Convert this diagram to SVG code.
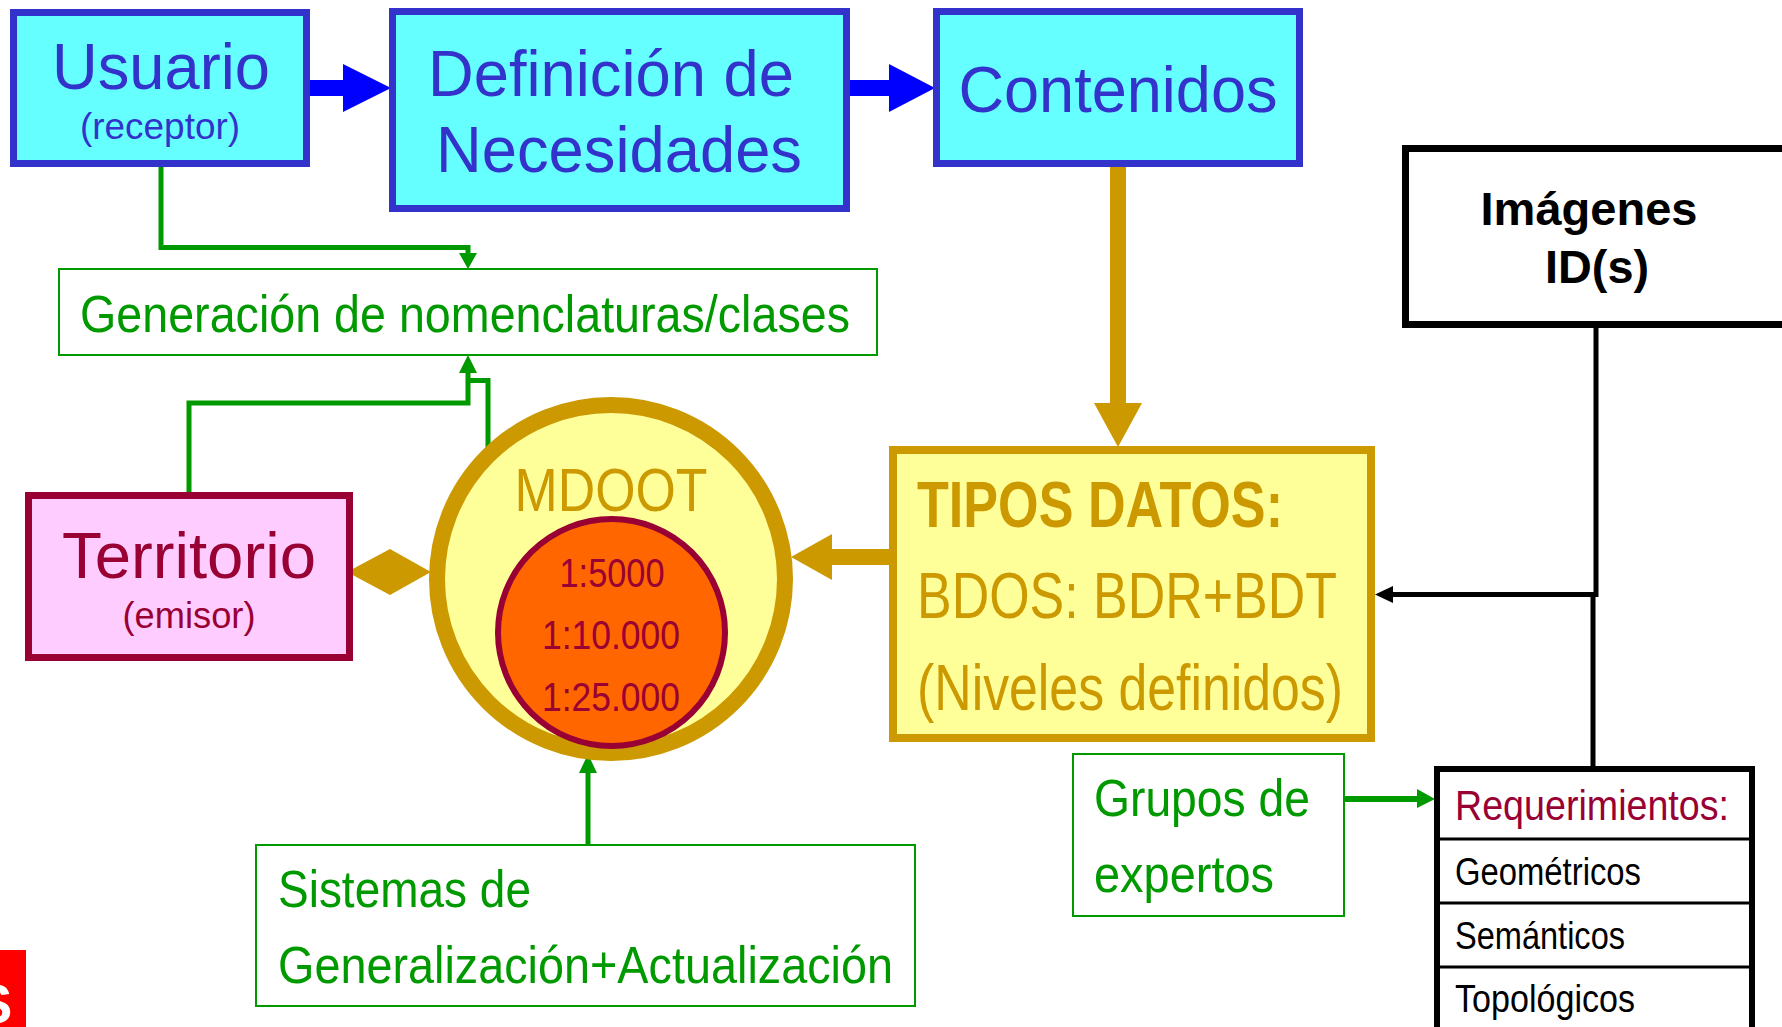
<svg xmlns="http://www.w3.org/2000/svg" width="1782" height="1027" viewBox="0 0 1782 1027">
<defs>
<style>
.reg{font-family:"Liberation Sans",Arial,sans-serif}
.nar{font-family:"Liberation Sans Narrow","Arial Narrow","Liberation Sans",sans-serif}
.blue{fill:#3333CC}
.grn{fill:#009900}
.gold{fill:#CC9900}
.wine{fill:#990033}
.cyanbox{fill:#66FFFF;stroke:#3333CC;stroke-width:7}
.gbox{fill:#FFFFFF;stroke:#009900;stroke-width:2}
.gline{fill:none;stroke:#009900;stroke-width:5}
.bline{fill:none;stroke:#000000;stroke-width:5}
</style>
<clipPath id="redclip"><rect x="0" y="950" width="26" height="77"/></clipPath>
</defs>
<rect width="1782" height="1027" fill="#FFFFFF"/>

<g id="connectors">
  <!-- blue arrows -->
  <polygon points="303,80 343,80 343,64 391,88 343,112 343,96 303,96" fill="#0000FF"/>
  <polygon points="846,80 889,80 889,64 935,88 889,112 889,96 846,96" fill="#0000FF"/>
  <!-- gold arrow down -->
  <polygon points="1110,163 1126,163 1126,403 1142,403 1118,447 1094,403 1110,403" fill="#CC9900"/>
  <!-- gold arrow left -->
  <polygon points="889,549 832,549 832,534 791,557 832,580 832,565 889,565" fill="#CC9900"/>
  <!-- diamond -->
  <polygon points="347,572 390,549 431,572 390,595" fill="#CC9900"/>
  <!-- green lines -->
  <path class="gline" d="M161,166 V247.5 H468 V256"/>
  <polygon points="459,253 477,253 468,269" fill="#009900"/>
  <path class="gline" d="M189,492 V403 H468 V372"/>
  <polygon points="459,373 477,373 468,355" fill="#009900"/>
  <path class="gline" d="M488,448 V380.5 H468"/>
  <path class="gline" d="M588,845 V770"/>
  <polygon points="579,773 597,773 588,754" fill="#009900"/>
  <path class="gline" style="stroke-width:6" d="M1344,799 H1420"/>
  <polygon points="1417,789 1435,799 1417,808" fill="#009900"/>
  <!-- black lines -->
  <path class="bline" d="M1596,326 V594.5 H1390"/>
  <polygon points="1375,594.5 1393,586 1393,603" fill="#000000"/>
  <path class="bline" d="M1593,594 V768"/>
</g>

<g id="usuario">
  <rect class="cyanbox" x="13.5" y="12.5" width="293" height="151"/>
  <text class="reg blue" x="161" y="89" font-size="64" text-anchor="middle" textLength="218" lengthAdjust="spacingAndGlyphs">Usuario</text>
  <text class="reg blue" x="160" y="139" font-size="36" text-anchor="middle" textLength="160" lengthAdjust="spacingAndGlyphs">(receptor)</text>
</g>

<g id="definicion">
  <rect class="cyanbox" x="392.5" y="11.5" width="454" height="197"/>
  <text class="reg blue" x="611" y="96" font-size="64" text-anchor="middle" textLength="366" lengthAdjust="spacingAndGlyphs">Definición de</text>
  <text class="reg blue" x="619" y="172" font-size="64" text-anchor="middle" textLength="366" lengthAdjust="spacingAndGlyphs">Necesidades</text>
</g>

<g id="contenidos">
  <rect class="cyanbox" x="936.5" y="11.5" width="363" height="152"/>
  <text class="reg blue" x="1118" y="112" font-size="64" text-anchor="middle" textLength="319" lengthAdjust="spacingAndGlyphs">Contenidos</text>
</g>

<g id="generacion">
  <rect class="gbox" x="59" y="269" width="818" height="86"/>
  <text class="nar grn" x="80" y="332" font-size="52" textLength="770" lengthAdjust="spacingAndGlyphs">Generación de nomenclaturas/clases</text>
</g>

<g id="territorio">
  <rect x="28.5" y="495.5" width="321" height="162" fill="#FFCCFF" stroke="#990033" stroke-width="7"/>
  <text class="reg wine" x="189" y="578" font-size="64" text-anchor="middle" textLength="254" lengthAdjust="spacingAndGlyphs">Territorio</text>
  <text class="reg wine" x="189" y="628" font-size="36" text-anchor="middle" textLength="133" lengthAdjust="spacingAndGlyphs">(emisor)</text>
</g>

<g id="mdoot">
  <circle cx="611" cy="579" r="174" fill="#FFFF99" stroke="#CC9900" stroke-width="16"/>
  <text class="nar gold" x="611" y="511" font-size="62" text-anchor="middle" textLength="193" lengthAdjust="spacingAndGlyphs">MDOOT</text>
  <circle cx="611.5" cy="632.5" r="113.5" fill="#FF6600" stroke="#990033" stroke-width="6"/>
  <text class="nar wine" x="612" y="587" font-size="40" text-anchor="middle" textLength="105" lengthAdjust="spacingAndGlyphs">1:5000</text>
  <text class="nar wine" x="611" y="649" font-size="40" text-anchor="middle" textLength="138" lengthAdjust="spacingAndGlyphs">1:10.000</text>
  <text class="nar wine" x="611" y="711" font-size="40" text-anchor="middle" textLength="138" lengthAdjust="spacingAndGlyphs">1:25.000</text>
</g>

<g id="tipos">
  <rect x="893" y="450" width="478" height="288" fill="#FFFF99" stroke="#CC9900" stroke-width="8"/>
  <text class="nar gold" x="917" y="527" font-size="64" font-weight="bold" textLength="366" lengthAdjust="spacingAndGlyphs">TIPOS DATOS:</text>
  <text class="nar gold" x="917" y="618" font-size="64" textLength="420" lengthAdjust="spacingAndGlyphs">BDOS: BDR+BDT</text>
  <text class="nar gold" x="917" y="710" font-size="64" textLength="426" lengthAdjust="spacingAndGlyphs">(Niveles definidos)</text>
</g>

<g id="imagenes">
  <rect x="1405.5" y="148.5" width="400" height="176" fill="#FFFFFF" stroke="#000000" stroke-width="7"/>
  <text class="reg" x="1589" y="225" font-size="46" font-weight="bold" text-anchor="middle" textLength="217" lengthAdjust="spacingAndGlyphs">Imágenes</text>
  <text class="reg" x="1597" y="283" font-size="46" font-weight="bold" text-anchor="middle" textLength="104" lengthAdjust="spacingAndGlyphs">ID(s)</text>
</g>

<g id="grupos">
  <rect class="gbox" x="1073" y="754" width="271" height="162"/>
  <text class="nar grn" x="1094" y="816" font-size="52" textLength="216" lengthAdjust="spacingAndGlyphs">Grupos de</text>
  <text class="nar grn" x="1094" y="892" font-size="52" textLength="180" lengthAdjust="spacingAndGlyphs">expertos</text>
</g>

<g id="requerimientos">
  <rect x="1437" y="769" width="315" height="270" fill="#FFFFFF" stroke="#000000" stroke-width="6"/>
  <path d="M1437,839 H1752 M1437,903 H1752 M1437,967 H1752" stroke="#000000" stroke-width="3" fill="none"/>
  <text class="nar wine" x="1455" y="820" font-size="42" textLength="274" lengthAdjust="spacingAndGlyphs">Requerimientos:</text>
  <text class="nar" x="1455" y="885" font-size="38" textLength="186" lengthAdjust="spacingAndGlyphs">Geométricos</text>
  <text class="nar" x="1455" y="949" font-size="38" textLength="170" lengthAdjust="spacingAndGlyphs">Semánticos</text>
  <text class="nar" x="1455" y="1012" font-size="38" textLength="180" lengthAdjust="spacingAndGlyphs">Topológicos</text>
</g>

<g id="sistemas">
  <rect class="gbox" x="256" y="845" width="659" height="161"/>
  <text class="nar grn" x="278" y="907" font-size="52" textLength="253" lengthAdjust="spacingAndGlyphs">Sistemas de</text>
  <text class="nar grn" x="278" y="983" font-size="52" textLength="615" lengthAdjust="spacingAndGlyphs">Generalización+Actualización</text>
</g>

<g id="logo-fragment">
  <rect x="0" y="950" width="26" height="77" fill="#FF0000"/>
  <g clip-path="url(#redclip)">
    <text class="reg" x="-25" y="1023" font-size="56" font-weight="bold" fill="#FFFFFF">S</text>
  </g>
</g>
</svg>
